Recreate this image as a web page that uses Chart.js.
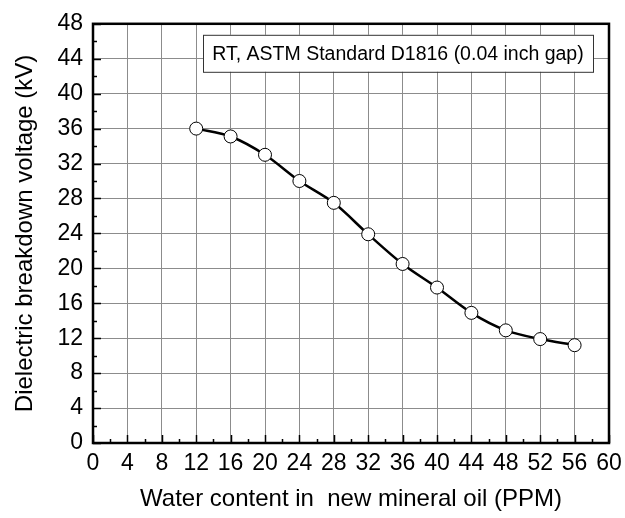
<!DOCTYPE html>
<html>
<head>
<meta charset="utf-8">
<script src="https://cdn.jsdelivr.net/npm/chart.js@4.4.1/dist/chart.umd.min.js"></script>
<style>
    html, body { margin: 0; padding: 0; background: #fff; }
    #wrap { width: 625px; height: 518px; }
</style>
</head>
<body>
<div id="wrap"><canvas id="chart"></canvas></div>
<script>
const waterPpm = [12, 16, 20, 24, 28, 32, 36, 40, 44, 48, 52, 56];
const breakdownKv = [36, 35.1, 33, 30, 27.5, 23.9, 20.5, 17.8, 14.9, 12.9, 11.9, 11.2];
const noteText = 'RT, ASTM Standard D1816 (0.04 inch gap)';
const xTitle = 'Water content in  new mineral oil (PPM)';
const yTitle = 'Dielectric breakdown voltage (kV)';

const fontFamily = '"Liberation Sans", Arial, sans-serif';
const gridColor = '#8c8c8c';

// inward ticks on left/bottom axes (major every 4, minor every 2) + heavy frame
const frameTicks = {
    id: 'frameTicks',
    afterDatasetsDraw(chart) {
        const { ctx, chartArea: a, scales: { x, y } } = chart;
        ctx.save();
        ctx.strokeStyle = '#000';
        ctx.lineWidth = 1.5;
        ctx.beginPath();
        for (let v = 0; v <= 60; v += 2) {
            const px = Math.round(x.getPixelForValue(v)) + 0.5;
            const len = v % 4 === 0 ? 8 : 4;
            ctx.moveTo(px, a.bottom);
            ctx.lineTo(px, a.bottom - len);
        }
        for (let v = 0; v <= 48; v += 2) {
            const py = Math.round(y.getPixelForValue(v)) + 0.5;
            const len = v % 4 === 0 ? 8 : 4;
            ctx.moveTo(a.left, py);
            ctx.lineTo(a.left + len, py);
        }
        ctx.stroke();
        ctx.lineWidth = 2.5;
        ctx.strokeRect(a.left, a.top, a.right - a.left, a.bottom - a.top);
        ctx.restore();
    }
};

// boxed note in the upper right of the plot
const noteBox = {
    id: 'noteBox',
    afterDatasetsDraw(chart) {
        const { ctx, chartArea: a } = chart;
        const left = a.left + 110, right = a.right - 16;
        const top = a.top + 11, h = 37;
        ctx.save();
        ctx.fillStyle = '#fff';
        ctx.fillRect(left, top, right - left, h);
        ctx.strokeStyle = '#333';
        ctx.lineWidth = 1;
        ctx.strokeRect(left + 0.5, top + 0.5, right - left, h);
        ctx.fillStyle = '#000';
        ctx.font = '19.5px ' + fontFamily;
        ctx.textAlign = 'center';
        ctx.textBaseline = 'middle';
        ctx.fillText(noteText, (left + right) / 2, top + h / 2 + 1);
        ctx.restore();
    }
};

const ctx = document.getElementById('chart');

const chart = new Chart(ctx, {
    type: 'line',
    data: {
        datasets: [
            {
                label: 'Breakdown voltage',
                data: waterPpm.map((w, i) => ({ x: w, y: breakdownKv[i] })),
                borderColor: '#000',
                borderWidth: 2.5,
                tension: 0.3,
                fill: false,
                pointRadius: 6.5,
                pointBorderWidth: 1,
                pointBackgroundColor: '#fff',
                pointBorderColor: '#000'
            }
        ]
    },
    options: {
        responsive: true,
        maintainAspectRatio: false,
        animation: false,
        layout: {
            padding: { top: 22, right: 16, left: 0, bottom: 0 }
        },
        plugins: {
            legend: { display: false },
            tooltip: { enabled: false }
        },
        scales: {
            x: {
                type: 'linear',
                min: 0,
                max: 60,
                afterFit: (scale) => {
                    scale.height = 75;
                    // let the layout padding decide the right edge, not the "60" label
                    scale.paddingLeft = 0;
                    scale.paddingRight = 0;
                },
                ticks: {
                    stepSize: 4,
                    autoSkip: false,
                    maxRotation: 0,
                    padding: 7,
                    color: '#000',
                    font: { family: fontFamily, size: 23 }
                },
                grid: { color: gridColor, lineWidth: 1, drawTicks: false },
                border: { display: false },
                title: {
                    display: true,
                    text: xTitle,
                    color: '#000',
                    padding: { top: 0, bottom: 4 },
                    font: { family: fontFamily, size: 24 }
                }
            },
            y: {
                type: 'linear',
                min: 0,
                max: 48,
                afterFit: (scale) => { scale.width = 93; },
                ticks: {
                    stepSize: 4,
                    autoSkip: false,
                    padding: 10,
                    color: '#000',
                    font: { family: fontFamily, size: 23 }
                },
                grid: { color: gridColor, lineWidth: 1, drawTicks: false },
                border: { display: false },
                title: {
                    display: true,
                    text: yTitle,
                    color: '#000',
                    padding: { top: 11, bottom: 0 },
                    font: { family: fontFamily, size: 24 }
                }
            }
        }
    },
    plugins: [frameTicks, noteBox]
});
</script>
</body>
</html>
